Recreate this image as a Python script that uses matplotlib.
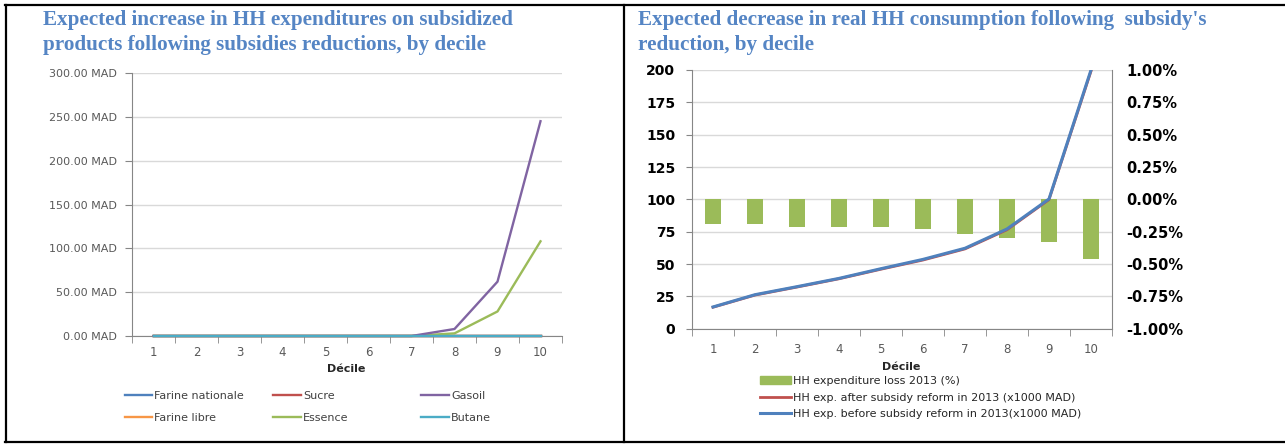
import numpy as np
import matplotlib.pyplot as plt
from matplotlib.lines import Line2D
from matplotlib.patches import Patch
from matplotlib.ticker import FuncFormatter

plt.rcParams['font.family'] = 'DejaVu Sans'

# deciles 1..10
deciles = [1, 2, 3, 4, 5, 6, 7, 8, 9, 10]

# extra spending per product after subsidy cuts (MAD)
farine_nationale = [0, 0, 0, 0, 0, 0, 0, 0, 0, 0]
farine_libre = [0, 0, 0, 0, 0, 0, 0, 0, 0, 0]
sucre = [0, 0, 0, 0, 0, 0, 0, 0, 0, 0]
essence = [0, 0, 0, 0, 0, 0, 0, 3, 28, 108]
gasoil = [0, 0, 0, 0, 0, 0, 0, 8, 62, 245]
butane = [0, 0, 0, 0, 0, 0, 0, 0, 0, 0]

# household expenditure 2013 (x1000 MAD) and loss (%)
exp_before = [16.8, 26.3, 32.5, 38.9, 46.4, 53.6, 62.2, 77.1, 100.3, 200]
exp_after = [16.6, 26.0, 32.2, 38.6, 46.0, 53.1, 61.7, 76.5, 99.8, 199.1]
exp_loss = [-0.19, -0.19, -0.21, -0.21, -0.21, -0.23, -0.27, -0.30, -0.33, -0.46]

blue = '#4F81BD'
red = '#C0504D'
green = '#9BBB59'
purple = '#8064A2'
teal = '#4BACC6'
orange = '#F79646'
grid_col = '#D9D9D9'
axis_col = '#868686'
title_col = '#5585C4'

W, H = 1285, 444


def fx(px):
    return px / W


def fy(py):
    return 1 - py / H


fig = plt.figure(figsize=(W / 100, H / 100), dpi=100)

# ---- left chart: increase in spending per product ----
ax1 = fig.add_axes([fx(132), fy(336), (562 - 132) / W, (336 - 73) / H])
products = [
    ('Farine nationale', farine_nationale, blue),
    ('Farine libre', farine_libre, orange),
    ('Sucre', sucre, red),
    ('Essence', essence, green),
    ('Gasoil', gasoil, purple),
    ('Butane', butane, teal),
]
handles = {}
for name, vals, col in products:
    ln, = ax1.plot(deciles, vals, color=col, lw=1.7, label=name, clip_on=False, zorder=3)
    handles[name] = ln

ax1.set_xlim(0.5, 10.5)
ax1.set_ylim(0, 300)
ax1.set_yticks([0, 50, 100, 150, 200, 250, 300])
ax1.yaxis.set_major_formatter(FuncFormatter(lambda v, p: f'{v:.2f} MAD'))
ax1.set_xticks(deciles)
ax1.set_xticks(np.arange(0.5, 11, 1), minor=True)
ax1.tick_params(axis='x', which='major', length=0, pad=7, labelsize=8.5, labelcolor='#595959')
ax1.tick_params(axis='x', which='minor', length=5, color=axis_col)
ax1.tick_params(axis='y', length=5, color=axis_col, pad=6, labelsize=8, labelcolor='#595959')
ax1.grid(axis='y', color=grid_col, lw=1)
ax1.set_axisbelow(True)
for s in ['top', 'right']:
    ax1.spines[s].set_visible(False)
for s in ['left', 'bottom']:
    ax1.spines[s].set_color(axis_col)

fig.text(fx(346), fy(369), 'Décile', ha='center', va='center', fontsize=8,
         weight='bold', color='#262626')

leg_kw = dict(loc='upper left', frameon=False, fontsize=8, handlelength=2.5,
              handletextpad=0.2, labelspacing=1.1, borderpad=0, borderaxespad=0,
              labelcolor='#404040')
cols = [(124.5, ['Farine nationale', 'Farine libre']),
        (273, ['Sucre', 'Essence']),
        (421, ['Gasoil', 'Butane'])]
for x0, names in cols:
    fig.legend(handles=[handles[n] for n in names], bbox_to_anchor=(fx(x0), fy(391)), **leg_kw)

# ---- right chart: real consumption loss ----
ax2 = fig.add_axes([fx(692), fy(328.7), (1112 - 692) / W, (328.7 - 70) / H])
axp = ax2.twinx()

bars = axp.bar(deciles, exp_loss, width=0.4, color=green, zorder=2)
axp.set_ylim(-1, 1)
axp.set_yticks(np.linspace(-1, 1, 9))
axp.yaxis.set_major_formatter(FuncFormatter(lambda v, p: f'{v:.2f}%' if abs(v) > 1e-9 else '0.00%'))
axp.tick_params(axis='y', length=0, pad=10, labelsize=10.5)
for lab in axp.get_yticklabels():
    lab.set_fontweight('bold')
axp.grid(axis='y', color=grid_col, lw=1)
axp.set_axisbelow(True)
for s in ['top', 'left', 'bottom']:
    axp.spines[s].set_visible(False)
axp.spines['right'].set_color(axis_col)

l_after, = ax2.plot(deciles, exp_after, color=red, lw=2)
l_before, = ax2.plot(deciles, exp_before, color=blue, lw=2.2)
ax2.set_xlim(0.5, 10.5)
ax2.set_ylim(0, 200)
ax2.set_yticks([0, 25, 50, 75, 100, 125, 150, 175, 200])
ax2.set_xticks(deciles)
ax2.set_xticks(np.arange(0.5, 11, 1), minor=True)
ax2.tick_params(axis='x', which='major', length=0, pad=10, labelsize=8.5, labelcolor='#595959')
ax2.tick_params(axis='x', which='minor', length=5, color=axis_col)
ax2.tick_params(axis='y', length=4, color=axis_col, pad=8, labelsize=10)
for lab in ax2.get_yticklabels():
    lab.set_fontweight('bold')
for s in ['top', 'right']:
    ax2.spines[s].set_visible(False)
for s in ['left', 'bottom']:
    ax2.spines[s].set_color(axis_col)
ax2.set_zorder(axp.get_zorder() + 1)
ax2.patch.set_visible(False)

fig.text(fx(901.5), fy(366.7), 'Décile', ha='center', va='center', fontsize=8,
         weight='bold', color='#262626')

fig.legend(handles=[Patch(color=green), l_after, l_before],
           labels=['HH expenditure loss 2013 (%)',
                   'HH exp. after subsidy reform in 2013 (x1000 MAD)',
                   'HH exp. before subsidy reform in 2013(x1000 MAD)'],
           loc='upper left', bbox_to_anchor=(fx(760), fy(376)), frameon=False,
           fontsize=8, handlelength=2.8, handletextpad=0.2, labelspacing=0.6,
           borderpad=0, borderaxespad=0, labelcolor='#262626')

# ---- titles ----
tkw = dict(family='Liberation Serif', weight='bold', size=15.2, color=title_col, va='baseline')
fig.text(fx(43), fy(25), 'Expected increase in HH expenditures on subsidized', **tkw)
fig.text(fx(43), fy(50), 'products following subsidies reductions, by decile', **tkw)
fig.text(fx(638), fy(25), "Expected decrease in real HH consumption following  subsidy's", **tkw)
fig.text(fx(638), fy(50), 'reduction, by decile', **tkw)

# ---- table frame ----
frame = dict(color='black', lw=1.6, transform=fig.transFigure)
fig.add_artist(Line2D([fx(5), 1], [fy(5), fy(5)], **frame))
fig.add_artist(Line2D([fx(5), 1], [fy(442), fy(442)], **frame))
fig.add_artist(Line2D([fx(6), fx(6)], [fy(5), fy(442)], **frame))
fig.add_artist(Line2D([fx(624), fx(624)], [fy(5), fy(442)], **frame))

fig.savefig('out.png', dpi=100)
